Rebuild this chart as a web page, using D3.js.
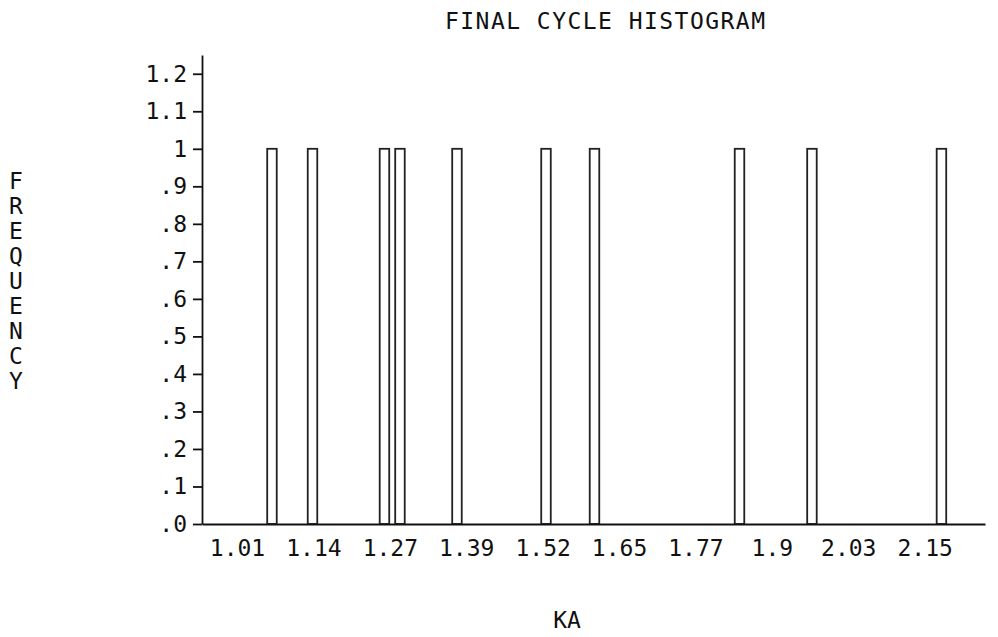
<!DOCTYPE html>
<html>
<head>
<meta charset="utf-8">
<script src="https://cdn.jsdelivr.net/npm/d3@7/dist/d3.min.js"></script>
<style>
  html, body { margin: 0; padding: 0; background: #fff; }
  svg { display: block; }
  text { font-family: "DejaVu Sans Mono", "Liberation Mono", monospace; fill: #111; }
</style>
</head>
<body>
<svg id="chart" width="998" height="637"></svg>
<script>
// Histogram bins (centre of each bin, KA) and their counts
const binCenters = [1.0713, 1.1385, 1.2578, 1.2835, 1.3780, 1.5256, 1.6060, 1.8464, 1.9665, 2.1812];
const frequencies = [1, 1, 1, 1, 1, 1, 1, 1, 1, 1];
const binWidth = 0.0158;

// Axis ticks and their printed labels
const xTickValues = [1.0133, 1.1400, 1.2667, 1.3933, 1.5200, 1.6467, 1.7733, 1.9000, 2.0267, 2.1533];
const xTickLabels = ["1.01", "1.14", "1.27", "1.39", "1.52", "1.65", "1.77", "1.9", "2.03", "2.15"];
const yTickValues = [0, 0.1, 0.2, 0.3, 0.4, 0.5, 0.6, 0.7, 0.8, 0.9, 1.0, 1.1, 1.2];
const yTickLabels = [".0", ".1", ".2", ".3", ".4", ".5", ".6", ".7", ".8", ".9", "1", "1.1", "1.2"];

const title = "FINAL CYCLE HISTOGRAM";
const xTitle = "KA";
const yTitle = "FREQUENCY";

const svg = d3.select("#chart");
const plotLeft = 202, plotRight = 985, plotTop = 55, plotBottom = 524;

const x = d3.scaleLinear().domain([0.9553, 2.2534]).range([plotLeft, plotRight]);
const y = d3.scaleLinear().domain([0, 1.25]).range([plotBottom, plotTop]);

// Bars: outlined rectangles
svg.append("g")
  .selectAll("rect")
  .data(binCenters.map((c, i) => ({ c, f: frequencies[i] })))
  .join("rect")
  .attr("x", d => x(d.c - binWidth / 2))
  .attr("width", d => x(d.c + binWidth / 2) - x(d.c - binWidth / 2))
  .attr("y", d => y(d.f))
  .attr("height", d => y(0) - y(d.f))
  .attr("fill", "none")
  .attr("stroke", "#222")
  .attr("stroke-width", 1.8);

// Y axis
const yAxis = d3.axisLeft(y)
  .tickValues(yTickValues)
  .tickFormat((d, i) => yTickLabels[i])
  .tickSize(9)
  .tickSizeOuter(0)
  .tickPadding(6);
const gy = svg.append("g").attr("transform", `translate(${plotLeft},0)`).call(yAxis);
gy.select(".domain").attr("stroke", "#111").attr("stroke-width", 1.8);
gy.selectAll(".tick line").attr("stroke", "#111").attr("stroke-width", 1.8);
gy.selectAll(".tick text")
  .attr("font-size", 23)
  .attr("fill", "#111")
  .attr("font-family", "DejaVu Sans Mono");

// X axis
const xAxis = d3.axisBottom(x)
  .tickValues(xTickValues)
  .tickFormat((d, i) => xTickLabels[i])
  .tickSize(0)
  .tickSizeOuter(0)
  .tickPadding(16);
const gx = svg.append("g").attr("transform", `translate(0,${plotBottom})`).call(xAxis);
gx.select(".domain").attr("stroke", "#111").attr("stroke-width", 1.8);
gx.selectAll(".tick text")
  .attr("font-size", 23)
  .attr("fill", "#111")
  .attr("font-family", "DejaVu Sans Mono");

// Title
svg.append("text")
  .attr("x", 605).attr("y", 29)
  .attr("text-anchor", "middle")
  .attr("font-size", 23)
  .attr("textLength", 320)
  .attr("lengthAdjust", "spacing")
  .text(title);

// X axis title
svg.append("text")
  .attr("x", 567).attr("y", 628)
  .attr("text-anchor", "middle")
  .attr("font-size", 23)
  .text(xTitle);

// Y axis title, letters stacked vertically
svg.append("g")
  .selectAll("text")
  .data(yTitle.split(""))
  .join("text")
  .attr("x", 16)
  .attr("y", (d, i) => 189 + i * 25)
  .attr("text-anchor", "middle")
  .attr("font-size", 23)
  .text(d => d);
</script>
</body>
</html>
